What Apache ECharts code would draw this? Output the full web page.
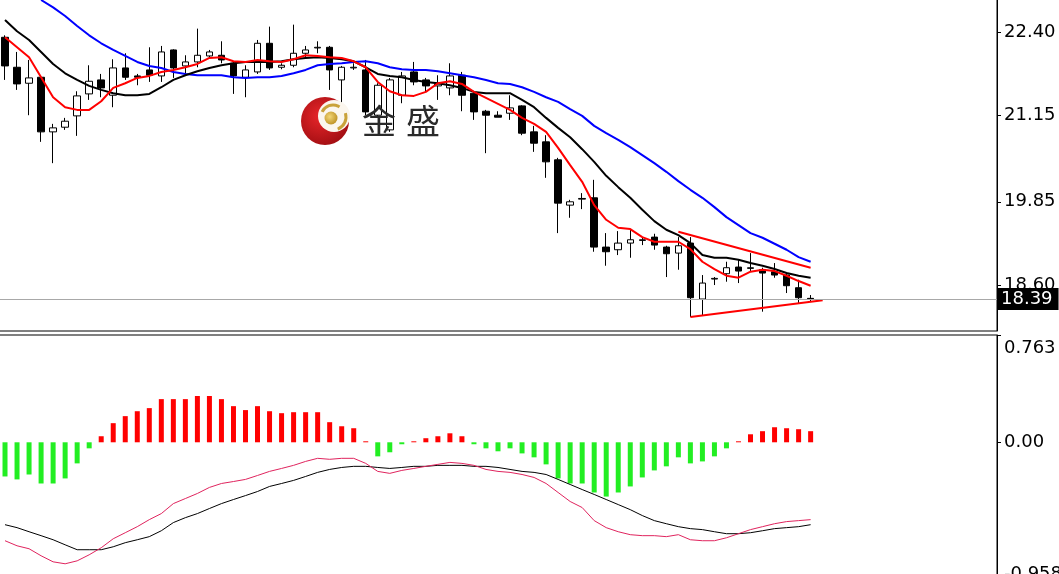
<!DOCTYPE html>
<html>
<head>
<meta charset="utf-8">
<script src="https://cdn.jsdelivr.net/npm/echarts@6/dist/echarts.min.js"></script>
<style>
html,body{margin:0;padding:0;background:#fff;}
#chart{width:1059px;height:574px;}
</style>
</head>
<body>
<div id="chart"></div>
<script>
// ---------- data ----------
const categories = Array.from({length: 83}, (_, i) => 'B' + (i + 1));

// [open, close, low, high]
const candles = [
[22.32,21.89,21.68,22.35],[21.87,21.62,21.53,22.10],[21.63,21.71,21.15,21.98],[21.72,20.90,20.75,21.74],
[20.90,20.96,20.43,21.02],[20.97,21.06,20.93,21.11],[21.14,21.44,20.84,21.51],[21.47,21.66,21.38,21.90],
[21.68,21.56,21.42,21.77],[21.45,21.86,21.27,21.99],[21.86,21.72,21.68,22.08],[21.74,21.72,21.60,21.77],
[21.83,21.75,21.65,22.17],[21.74,22.10,21.65,22.19],[22.13,21.86,21.71,22.14],[21.89,21.95,21.77,22.05],
[21.95,22.05,21.87,22.45],[22.04,22.10,22.01,22.13],[22.05,21.98,21.93,22.26],[21.93,21.74,21.47,21.95],
[21.72,21.83,21.42,21.90],[21.80,22.23,21.77,22.28],[22.23,21.86,21.83,22.48],[21.87,21.90,21.84,21.93],
[21.90,22.08,21.87,22.51],[22.08,22.13,22.02,22.19],[22.16,22.17,22.08,22.26],[22.17,21.83,21.53,22.19],
[21.68,21.87,21.27,21.89],[21.86,21.87,21.83,21.93],[21.83,21.20,21.15,21.98],[21.15,21.60,21.11,21.63],
[20.93,21.68,20.90,21.71],[21.45,21.74,21.33,21.80],[21.80,21.65,21.60,21.95],[21.68,21.59,21.50,21.71],
[21.59,21.62,21.38,21.75],[21.56,21.74,21.45,21.93],[21.75,21.45,21.21,21.80],[21.48,21.20,21.08,21.50],
[21.21,21.15,20.58,21.23],[21.15,21.12,21.12,21.21],[21.18,21.26,21.08,21.45],[21.29,20.88,20.85,21.30],
[20.90,20.73,20.60,20.99],[20.75,20.45,20.21,20.85],[20.48,19.83,19.38,20.51],[19.80,19.85,19.61,19.88],
[19.89,19.90,19.74,19.98],[19.91,19.17,19.10,20.18],[19.17,19.10,18.89,19.38],[19.13,19.23,19.05,19.41],
[19.23,19.28,19.01,19.44],[19.27,19.28,19.20,19.32],[19.32,19.20,19.13,19.37],[19.17,19.07,18.72,19.19],
[19.08,19.19,18.83,19.32],[19.23,18.41,18.12,19.32],[18.39,18.63,18.15,18.75],[18.69,18.70,18.60,18.72],
[18.77,18.86,18.65,18.95],[18.87,18.81,18.63,18.98],[18.85,18.86,18.80,19.08],[18.83,18.78,18.20,18.86],
[18.80,18.75,18.71,18.93],[18.75,18.59,18.48,18.78],[18.56,18.41,18.33,18.68],[18.40,18.39,18.35,18.45]
];

const maFast = [22.32,22.17,22.02,21.72,21.42,21.27,21.23,21.23,21.36,21.56,21.63,21.71,21.74,21.80,21.83,21.87,
21.92,22.01,22.02,21.96,21.95,21.98,21.96,21.95,21.99,22.05,22.04,22.02,22.01,21.96,21.87,21.65,21.51,21.45,21.44,
21.50,21.63,21.66,21.62,21.50,21.41,21.32,21.23,21.11,21.02,20.90,20.66,20.40,20.15,19.80,19.58,19.46,19.44,19.32,
19.25,19.25,19.25,19.14,18.95,18.84,18.74,18.71,18.80,18.83,18.81,18.74,18.66,18.59];

const maMid = [22.58,22.41,22.28,22.10,21.92,21.78,21.68,21.59,21.53,21.48,21.45,21.45,21.47,21.57,21.68,21.75,
21.81,21.86,21.90,21.93,21.95,21.95,21.95,21.96,21.99,22.01,22.02,22.01,21.99,21.96,21.87,21.77,21.74,21.72,21.68,
21.65,21.63,21.60,21.56,21.50,21.48,21.48,21.48,21.38,21.27,21.11,20.96,20.82,20.64,20.45,20.24,20.07,19.91,19.73,
19.56,19.43,19.35,19.23,19.05,19.01,19.01,18.98,18.93,18.89,18.84,18.78,18.74,18.71];

const maSlow = [null,null,null,22.88,22.77,22.64,22.49,22.35,22.23,22.13,22.04,21.95,21.89,21.86,21.80,21.77,
21.75,21.75,21.75,21.72,21.71,21.72,21.72,21.74,21.78,21.83,21.90,21.92,21.93,21.95,21.96,21.93,21.87,21.84,21.83,
21.83,21.81,21.78,21.75,21.72,21.68,21.63,21.62,21.57,21.50,21.42,21.35,21.24,21.14,20.99,20.88,20.78,20.67,20.55,
20.43,20.30,20.16,20.03,19.91,19.77,19.62,19.50,19.38,19.31,19.22,19.13,19.02,18.95];

const macdHist = [-0.243,-0.264,-0.229,-0.293,-0.293,-0.257,-0.150,-0.043,0.043,0.136,0.186,0.221,0.243,0.307,0.307,
0.307,0.329,0.329,0.307,0.257,0.229,0.257,0.221,0.207,0.214,0.214,0.214,0.143,0.114,0.100,0.007,-0.100,-0.071,-0.014,
0.007,0.029,0.043,0.064,0.043,-0.014,-0.043,-0.064,-0.043,-0.079,-0.107,-0.157,-0.257,-0.293,-0.293,-0.357,-0.386,
-0.357,-0.314,-0.250,-0.200,-0.171,-0.107,-0.150,-0.136,-0.100,-0.043,0.007,0.057,0.079,0.107,0.100,0.093,0.079];

const macdSignal = [-0.586,-0.607,-0.636,-0.664,-0.693,-0.729,-0.764,-0.764,-0.764,-0.743,-0.714,-0.693,-0.671,-0.629,
-0.571,-0.536,-0.507,-0.471,-0.436,-0.407,-0.379,-0.350,-0.314,-0.293,-0.271,-0.243,-0.214,-0.193,-0.179,-0.171,-0.171,
-0.179,-0.186,-0.179,-0.171,-0.171,-0.164,-0.164,-0.164,-0.171,-0.171,-0.179,-0.193,-0.207,-0.214,-0.229,-0.264,-0.300,
-0.336,-0.371,-0.407,-0.443,-0.479,-0.521,-0.557,-0.579,-0.600,-0.614,-0.621,-0.636,-0.650,-0.650,-0.643,-0.629,-0.614,
-0.607,-0.600,-0.586];

const macdMain = [-0.700,-0.736,-0.757,-0.807,-0.850,-0.864,-0.843,-0.800,-0.750,-0.686,-0.643,-0.600,-0.550,-0.507,
-0.436,-0.400,-0.364,-0.321,-0.293,-0.279,-0.264,-0.236,-0.207,-0.186,-0.164,-0.136,-0.114,-0.121,-0.114,-0.114,-0.150,
-0.207,-0.221,-0.200,-0.186,-0.171,-0.157,-0.143,-0.150,-0.164,-0.193,-0.207,-0.214,-0.229,-0.250,-0.293,-0.357,-0.421,
-0.464,-0.557,-0.607,-0.636,-0.657,-0.664,-0.664,-0.671,-0.657,-0.693,-0.700,-0.700,-0.679,-0.650,-0.621,-0.600,-0.579,
-0.564,-0.557,-0.550];

const trendUpper = [[56, 19.40], [67, 18.86]];
const trendLower = [[57, 18.12], [68, 18.37]];
const lastPrice = 18.39;
const priceTicks = [18.60, 19.85, 21.15, 22.40];
const macdTicks = [0.763, 0, -0.958];

// ---------- chart ----------
const chart = echarts.init(document.getElementById('chart'), null, {renderer: 'canvas'});
const FONT = 'DejaVu Sans';

const option = {
  animation: false,
  backgroundColor: '#ffffff',
  grid: [
    {left: -1, right: 62, top: -1, height: 332, show: true, borderColor: '#000', borderWidth: 1,
      backgroundColor: 'transparent', outerBoundsMode: 'none', containLabel: false},
    {left: -1, right: 62, top: 335, bottom: -3, show: true, borderColor: '#000', borderWidth: 1,
      backgroundColor: 'transparent', outerBoundsMode: 'none', containLabel: false}
  ],
  xAxis: [
    {type: 'category', gridIndex: 0, data: categories, boundaryGap: true, show: false},
    {type: 'category', gridIndex: 1, data: categories, boundaryGap: true, show: false}
  ],
  yAxis: [
    {
      type: 'value', gridIndex: 0, position: 'right', min: 17.91, max: 22.895, scale: true,
      axisLine: {show: true, lineStyle: {color: '#000', width: 1}},
      axisTick: {show: true, length: 4, inside: false, customValues: priceTicks, lineStyle: {color: '#000'}},
      axisLabel: {show: true, customValues: priceTicks, color: '#000', fontFamily: FONT, fontSize: 18, margin: 7,
        formatter: v => v.toFixed(2)},
      splitLine: {show: false}
    },
    {
      type: 'value', gridIndex: 1, position: 'right', min: -0.958, max: 0.763,
      axisLine: {show: true, lineStyle: {color: '#000', width: 1}},
      axisTick: {show: true, length: 4, customValues: macdTicks, lineStyle: {color: '#000'}},
      axisLabel: {show: true, customValues: macdTicks, color: '#000', fontFamily: FONT, fontSize: 18, margin: 7,
        formatter: v => v === 0 ? '{n|0.00}' : (v > 0 ? '{gapT| }\n{n|' + v.toFixed(3) + '}' : '{n|' + v.toFixed(3) + '}\n{gapB| }'),
        rich: {
          n: {fontFamily: FONT, fontSize: 18, color: '#000', lineHeight: 18},
          gapT: {fontSize: 8, lineHeight: 26},
          gapB: {fontSize: 6, lineHeight: 6}
        }},
      splitLine: {show: false}
    }
  ],
  series: [
    {
      type: 'candlestick', xAxisIndex: 0, yAxisIndex: 0, data: candles, barWidth: 7, z: 2,
      itemStyle: {color: '#ffffff', color0: '#000000', borderColor: '#000000', borderColor0: '#000000', borderWidth: 1},
      markLine: {
        symbol: 'none', silent: true, animation: false,
        lineStyle: {color: '#a8a8a8', width: 1, type: 'solid'},
        label: {show: true, position: 'end', distance: 1, formatter: lastPrice.toFixed(2), color: '#fff',
          backgroundColor: '#000', padding: [2, 6, 2, 3], fontFamily: FONT, fontSize: 18},
        data: [{yAxis: lastPrice}]
      }
    },
    {type: 'line', xAxisIndex: 0, yAxisIndex: 0, data: maSlow, symbol: 'none', z: 3,
      lineStyle: {color: '#0000ff', width: 2}},
    {type: 'line', xAxisIndex: 0, yAxisIndex: 0, data: maMid, symbol: 'none', z: 3,
      lineStyle: {color: '#000000', width: 2}},
    {type: 'line', xAxisIndex: 0, yAxisIndex: 0, data: maFast, symbol: 'none', z: 3,
      lineStyle: {color: '#ff0000', width: 2}},
    {type: 'line', xAxisIndex: 0, yAxisIndex: 0, data: trendUpper, symbol: 'none', z: 4,
      lineStyle: {color: '#ff0000', width: 2}},
    {type: 'line', xAxisIndex: 0, yAxisIndex: 0, data: trendLower, symbol: 'none', z: 4,
      lineStyle: {color: '#ff0000', width: 2}},
    {
      type: 'bar', xAxisIndex: 1, yAxisIndex: 1, data: macdHist, barWidth: 5,
      itemStyle: {color: p => p.value >= 0 ? '#ff0000' : '#22ee22'}
    },
    {type: 'line', xAxisIndex: 1, yAxisIndex: 1, data: macdSignal, symbol: 'none',
      lineStyle: {color: '#000000', width: 1}},
    {type: 'line', xAxisIndex: 1, yAxisIndex: 1, data: macdMain, symbol: 'none',
      lineStyle: {color: '#e0245e', width: 1}}
  ],
  graphic: [
    {type: 'circle', z: 50, shape: {cx: 325, cy: 121, r: 24},
      style: {fill: new echarts.graphic.RadialGradient(0.4, 0.4, 0.7, [{offset: 0, color: '#e8262a'}, {offset: 1, color: '#9c0c10'}])}},
    {type: 'circle', z: 51, shape: {cx: 334, cy: 116, r: 16}, style: {fill: '#fbf6ee'}},
    {type: 'arc', z: 52, shape: {cx: 333, cy: 117, r: 12, startAngle: -2.7, endAngle: -1.0}, style: {stroke: '#c9a23a', lineWidth: 3, fill: null}},
    {type: 'arc', z: 52, shape: {cx: 333, cy: 117, r: 13, startAngle: -0.3, endAngle: 1.2}, style: {stroke: '#c9a23a', lineWidth: 3, fill: null}},
    {type: 'circle', z: 53, shape: {cx: 331, cy: 118, r: 6.5},
      style: {fill: new echarts.graphic.RadialGradient(0.4, 0.4, 0.7, [{offset: 0, color: '#f3d777'}, {offset: 1, color: '#b88a1c'}])}},
    {type: 'text', z: 54, x: 362, y: 104, style: {text: '金', fill: '#2a2a2a', font: '34px "Noto Sans CJK SC"'}},
    {type: 'text', z: 54, x: 406, y: 104, style: {text: '盛', fill: '#2a2a2a', font: '34px "Noto Sans CJK SC"'}}
  ]
};
chart.setOption(option);
</script>
</body>
</html>
